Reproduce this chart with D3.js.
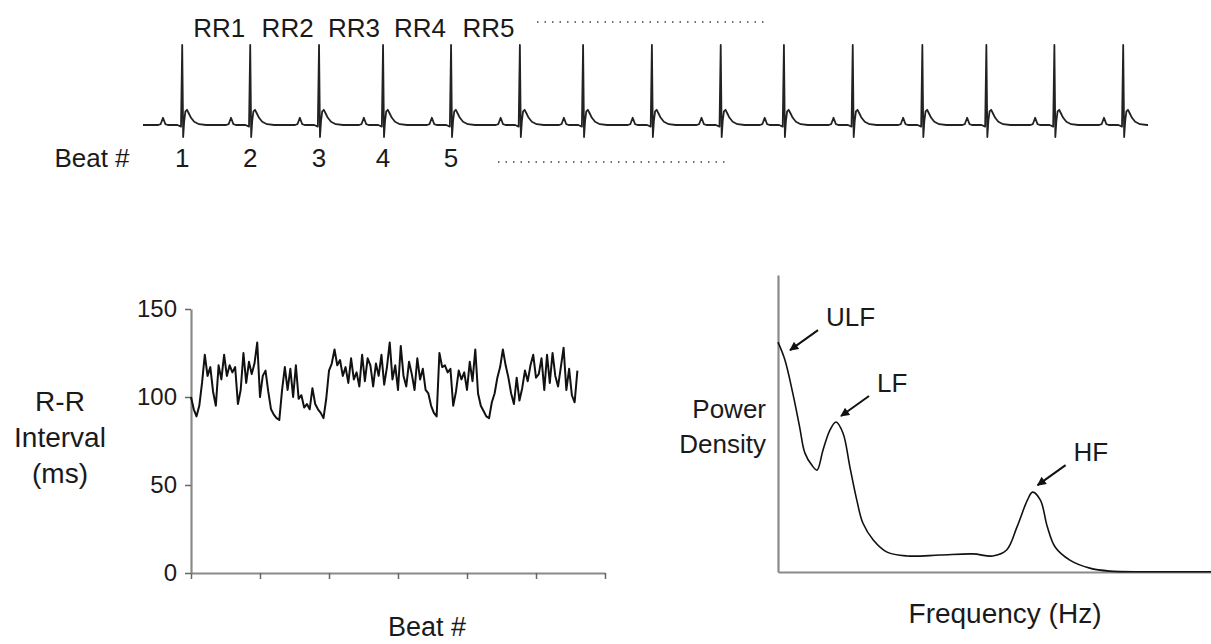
<!doctype html>
<html lang="en">
<head>
<meta charset="utf-8">
<title>RR interval and spectrum</title>
<script src="https://d3js.org/d3.v7.min.js"></script>
<style>
  body { margin: 0; background: #fff; }
  svg text { font-family: "Liberation Sans", Arial, sans-serif; fill: #1a1a1a; }
</style>
</head>
<body>
<svg id="chart" width="1211" height="644"></svg>
<script>
// ECG strip: R-peak times (s), and one beat shape (offset s / mV)
var beatTimes = [0.49, 1.34, 2.20, 3.00, 3.85, 4.71, 5.50, 6.36, 7.22, 8.01, 8.87, 9.74, 10.54, 11.39, 12.25];
var beatOffsets = [-0.30, -0.27, -0.24, -0.21, -0.18, -0.06, -0.015, 0, 0.012, 0.025, 0.04, 0.06, 0.08, 0.11, 0.15, 0.21, 0.30];
var beatShape   = [0, 0.01, 0.09, 0.01, 0, 0, -0.02, 1.0, -0.15, 0.05, 0.17, 0.19, 0.15, 0.09, 0.04, 0.01, 0];
var ecgEnd = 12.56;
var rrLabels = ["RR1", "RR2", "RR3", "RR4", "RR5"];
var beatNums = ["1", "2", "3", "4", "5"];

// R-R interval series, one value every rrStep beats
var rrStep = 4;
var rrValues = [100, 93, 89, 95, 108, 124, 112, 117, 103, 95, 118, 110, 124, 112, 118, 114, 117, 96, 104, 125,
  108, 120, 113, 119, 131, 100, 112, 115, 103, 93, 90, 88, 87, 104, 117, 104, 116, 100, 118, 99,
  101, 94, 96, 93, 105, 96, 93, 91, 88, 99, 115, 119, 127, 118, 121, 112, 117, 108, 122, 110,
  114, 106, 124, 109, 122, 118, 106, 119, 112, 124, 107, 117, 131, 110, 118, 104, 129, 112, 106, 120,
  113, 104, 122, 110, 116, 104, 102, 95, 91, 89, 125, 117, 118, 114, 116, 95, 103, 115, 110, 114,
  104, 120, 109, 127, 102, 95, 92, 89, 88, 97, 102, 111, 117, 127, 118, 111, 102, 96, 111, 98,
  105, 115, 109, 118, 124, 111, 113, 122, 104, 124, 108, 125, 112, 106, 117, 128, 104, 116, 101, 97, 115];
var rrTicks = [0, 100, 200, 300, 400, 500, 600];
var rrYTicks = [0, 50, 100, 150];

// power spectrum
var freq  = [0, 0.008, 0.017, 0.025, 0.031, 0.039, 0.045, 0.052, 0.060, 0.067, 0.075, 0.083, 0.091, 0.098, 0.110, 0.126,
  0.149, 0.187, 0.225, 0.248, 0.264, 0.276, 0.288, 0.294, 0.303, 0.311, 0.320, 0.337, 0.360, 0.383, 0.430, 0.500];
var power = [0.774, 0.714, 0.603, 0.488, 0.401, 0.360, 0.343, 0.411, 0.478, 0.505, 0.468, 0.354, 0.242, 0.165, 0.108, 0.067,
  0.054, 0.057, 0.061, 0.054, 0.074, 0.152, 0.242, 0.269, 0.242, 0.152, 0.084, 0.040, 0.013, 0.003, 0.001, 0.001];
var bandLabels = ["ULF", "LF", "HF"];
var bandIndex = [0, 9, 23];

var svg = d3.select("#chart");
var ink = "#111";

svg.append("defs").append("marker")
  .attr("id", "arrow").attr("viewBox", "0 0 10 10")
  .attr("refX", 9).attr("refY", 5)
  .attr("markerWidth", 5).attr("markerHeight", 4.5)
  .attr("orient", "auto")
  .append("path").attr("d", "M0,0 L10,5 L0,10 z").attr("fill", ink);

// ---------- ECG ----------
var xE = d3.scaleLinear().domain([0, ecgEnd]).range([143, 1148]);
var yE = d3.scaleLinear().domain([0, 1]).range([125, 45]);

var ecg = [[0, 0]];
beatTimes.forEach(function(t) {
  beatOffsets.forEach(function(o, i) { ecg.push([t + o, beatShape[i]]); });
});
ecg.push([ecgEnd, 0]);

svg.append("path").datum(ecg)
  .attr("fill", "none").attr("stroke", "#222").attr("stroke-width", 1.8)
  .attr("stroke-linejoin", "round")
  .attr("d", d3.line().x(function(d) { return xE(d[0]); }).y(function(d) { return yE(d[1]); }));

svg.selectAll(".rrlab").data(rrLabels).enter().append("text")
  .attr("class", "rrlab")
  .attr("x", function(d, i) { return (xE(beatTimes[i]) + xE(beatTimes[i + 1])) / 2 + 3; })
  .attr("y", 37).attr("text-anchor", "middle").attr("font-size", 26)
  .text(function(d) { return d; });

svg.selectAll(".bnum").data(beatNums).enter().append("text")
  .attr("class", "bnum")
  .attr("x", function(d, i) { return xE(beatTimes[i]); })
  .attr("y", 167).attr("text-anchor", "middle").attr("font-size", 26)
  .text(function(d) { return d; });

svg.append("text").attr("x", 92).attr("y", 167).attr("text-anchor", "middle")
  .attr("font-size", 26).text("Beat #");

svg.append("line").attr("x1", 537).attr("x2", 767).attr("y1", 22).attr("y2", 22)
  .attr("stroke", "#444").attr("stroke-width", 1.5).attr("stroke-dasharray", "1.5,6");
svg.append("line").attr("x1", 498).attr("x2", 728).attr("y1", 162).attr("y2", 162)
  .attr("stroke", "#444").attr("stroke-width", 1.5).attr("stroke-dasharray", "1.5,6");

// ---------- R-R interval ----------
var xR = d3.scaleLinear().domain([0, 600]).range([191, 605]);
var yR = d3.scaleLinear().domain([0, 150]).range([573, 309]);

var gx = svg.append("g").attr("transform", "translate(0,573)")
  .call(d3.axisBottom(xR).tickValues(rrTicks).tickFormat("").tickSize(6).tickSizeOuter(0));
var gy = svg.append("g").attr("transform", "translate(191,0)")
  .call(d3.axisLeft(yR).tickValues(rrYTicks).tickSize(6).tickPadding(8).tickSizeOuter(0));
[gx, gy].forEach(function(g) {
  g.select(".domain").attr("stroke", "#8a8a8a").attr("stroke-width", 2.2);
  g.selectAll(".tick line").attr("stroke", "#666").attr("stroke-width", 1.5);
  g.selectAll(".tick text").attr("font-size", 24).attr("fill", "#1a1a1a")
    .attr("font-family", "'Liberation Sans', Arial, sans-serif");
});

svg.append("path").datum(rrValues)
  .attr("fill", "none").attr("stroke", ink).attr("stroke-width", 2)
  .attr("stroke-linejoin", "round")
  .attr("d", d3.line().x(function(d, i) { return xR(i * rrStep); }).y(function(d) { return yR(d); }));

svg.append("text").attr("text-anchor", "middle").attr("font-size", 28)
  .selectAll("tspan").data(["R-R", "Interval", "(ms)"]).enter().append("tspan")
  .attr("x", 60).attr("y", function(d, i) { return 411 + i * 36; })
  .text(function(d) { return d; });

svg.append("text").attr("x", 427).attr("y", 636).attr("text-anchor", "middle")
  .attr("font-size", 27).text("Beat #");

// ---------- spectrum ----------
var xS = d3.scaleLinear().domain([0, 0.5]).range([778, 1211]);
var yS = d3.scaleLinear().domain([0, 1]).range([572, 275]);

var sx = svg.append("g").attr("transform", "translate(0,572)")
  .call(d3.axisBottom(xS).tickValues([]).tickSizeOuter(0));
var sy = svg.append("g").attr("transform", "translate(778,0)")
  .call(d3.axisLeft(yS).tickValues([]).tickSizeOuter(0));
[sx, sy].forEach(function(g) {
  g.select(".domain").attr("stroke", "#8a8a8a").attr("stroke-width", 2.2);
});

svg.append("path").datum(d3.zip(freq, power))
  .attr("fill", "none").attr("stroke", ink).attr("stroke-width", 1.6)
  .attr("d", d3.line().curve(d3.curveCatmullRom.alpha(0.5))
    .x(function(d) { return xS(d[0]); }).y(function(d) { return yS(d[1]); }));

var tipShift = [[12, 8], [5, -6], [5, -7]];
bandLabels.forEach(function(lab, k) {
  var i = bandIndex[k];
  var tx = xS(freq[i]) + tipShift[k][0], ty = yS(power[i]) + tipShift[k][1];
  svg.append("line")
    .attr("x1", tx + 28).attr("y1", ty - 20).attr("x2", tx).attr("y2", ty)
    .attr("stroke", ink).attr("stroke-width", 2).attr("marker-end", "url(#arrow)");
  svg.append("text").attr("x", tx + 36).attr("y", ty - 24)
    .attr("font-size", 26).text(lab);
});

svg.append("text").attr("text-anchor", "end").attr("font-size", 26)
  .selectAll("tspan").data(["Power", "Density"]).enter().append("tspan")
  .attr("x", 766).attr("y", function(d, i) { return 418 + i * 35; })
  .text(function(d) { return d; });

svg.append("text").attr("x", 1005).attr("y", 623).attr("text-anchor", "middle")
  .attr("font-size", 28).text("Frequency (Hz)");
</script>
</body>
</html>
